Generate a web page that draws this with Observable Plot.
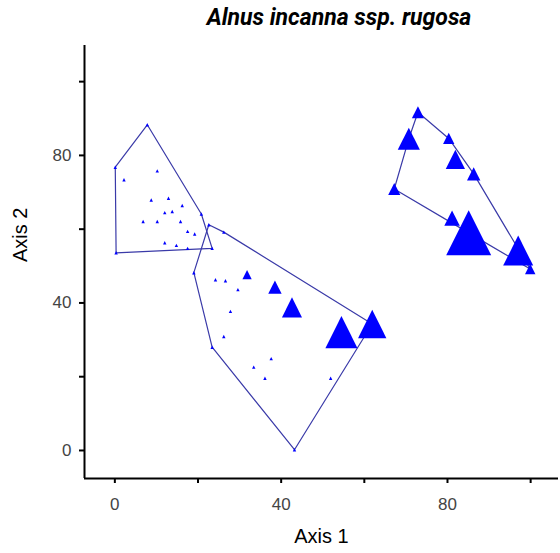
<!DOCTYPE html>
<html><head><meta charset="utf-8">
<script src="https://cdn.jsdelivr.net/npm/d3@7"></script>
<script src="https://cdn.jsdelivr.net/npm/@observablehq/plot@0.6"></script>
<style>
html,body{margin:0;padding:0;background:#fff;}
#title{height:45px;width:560px;box-sizing:border-box;padding-top:5px;padding-left:118px;font:italic bold 23px Roboto,"Liberation Sans",Arial,sans-serif;line-height:26px;text-align:center;color:#000;}
</style></head><body>
<div id="title">Alnus incanna ssp. rugosa</div>
<div id="chart"></div>
<script>
// Ordination scores (Axis 1, Axis 2), Alnus abundance, and plot group
const axis1 = [
  7.8, 0.1, 0.3, 23.4, 20.8, 2.2, 10.2, 8.75, 12.9, 16.2, 12.0, 13.8, 6.8, 10.2, 15.8, 17.5, 19.2, 12.0, 14.8, 17.5,
  22.6, 26.2, 19.0, 23.4, 43.2, 24.2, 26.6, 29.6, 27.8, 26.2, 37.6, 33.4, 36.1, 51.9, 31.8, 38.5, 42.6, 54.5, 61.9,
  72.9, 80.3, 86.3, 97.0, 99.9, 85.1, 81.1, 67.2, 70.7, 81.9
];
const axis2 = [
  88.3, 76.8, 53.6, 54.8, 64.1, 73.4, 75.8, 67.9, 68.4, 66.4, 64.5, 64.8, 62.1, 62.1, 62.1, 59.4, 58.7, 56.3, 55.6, 54.8,
  61.2, 59.2, 48.2, 28.0, 0.2, 46.3, 46.0, 43.6, 37.7, 30.9, 24.9, 22.6, 19.6, 19.6, 47.7, 44.3, 38.8, 32.1, 34.3,
  91.7, 84.6, 75.0, 54.2, 49.2, 59.0, 63.0, 70.9, 84.5, 78.9
];
const abundance = [
  0, 0, 0, 0, 0, 0, 0, 0, 0, 0, 0, 0, 0, 0, 0, 0, 0, 0, 0, 0,
  0, 0, 0, 0, 0, 0, 0, 0, 0, 0, 0, 0, 0, 0, 14, 24, 40, 69, 60,
  21, 19, 24, 64, 17, 100, 29, 21, 45, 38
];
const group = [
  "1","1","1","1","1","1","1","1","1","1","1","1","1","1","1","1","1","1","1","1",
  "2","2","2","2","2","2","2","2","2","2","2","2","2","2","2","2","2","2","2",
  "3","3","3","3","3","3","3","3","3","3"
];
const xTicks = [0, 20, 40, 60, 80, 100];
const yTicks = [0, 20, 40, 60, 80, 100];
const tickLabels = [0, 40, 80];
const xDomain = [-7.3, 106.7];
const yDomain = [-7.6, 109.8];

const data = axis1.map((x, i) => ({x, y: axis2[i], a: abundance[i], g: group[i]}));

const triangle = {
  draw(ctx, size) {
    const r = Math.sqrt(size / Math.PI);
    ctx.moveTo(0, -r);
    ctx.lineTo(r, r);
    ctx.lineTo(-r, r);
    ctx.closePath();
  }
};
const fmt = d => tickLabels.includes(d) ? String(d) : "";

const chart = Plot.plot({
  width: 560,
  height: 508,
  marginTop: 0,
  marginLeft: 84,
  marginRight: 2,
  marginBottom: 75,
  x: {domain: xDomain},
  y: {domain: yDomain},
  r: {type: "linear", domain: [0, 100], range: [1.7, 22.5]},
  style: {fontFamily: "'Liberation Sans', Arial, sans-serif", fontSize: "17px", background: "white", color: "#000"},
  marks: [
    Plot.axisX({ticks: xTicks, tickFormat: fmt, tickSize: 5, tickPadding: 14, stroke: "#000", strokeWidth: 2, fill: "#444", label: null, fontSize: 17}),
    Plot.axisY({ticks: yTicks, tickFormat: fmt, tickSize: 5, tickPadding: 8, stroke: "#000", strokeWidth: 2, fill: "#444", label: null, fontSize: 17}),
    Plot.ruleX([xDomain[0]], {stroke: "#000", strokeWidth: 2}),
    Plot.ruleY([yDomain[0]], {stroke: "#000", strokeWidth: 2}),
    Plot.hull(data, {x: "x", y: "y", z: "g", stroke: "#3a3aa8", strokeWidth: 1.2}),
    Plot.dot(data, {x: "x", y: "y", r: "a", symbol: triangle, fill: "#0000ff", stroke: "none"}),
    Plot.text(["Axis 1"], {frameAnchor: "bottom", dy: 64, fontSize: 20, fill: "#000"}),
    Plot.text(["Axis 2"], {frameAnchor: "left", dx: -64, rotate: -90, fontSize: 20, fill: "#000"})
  ]
});
document.getElementById("chart").appendChild(chart);
</script>
</body></html>
